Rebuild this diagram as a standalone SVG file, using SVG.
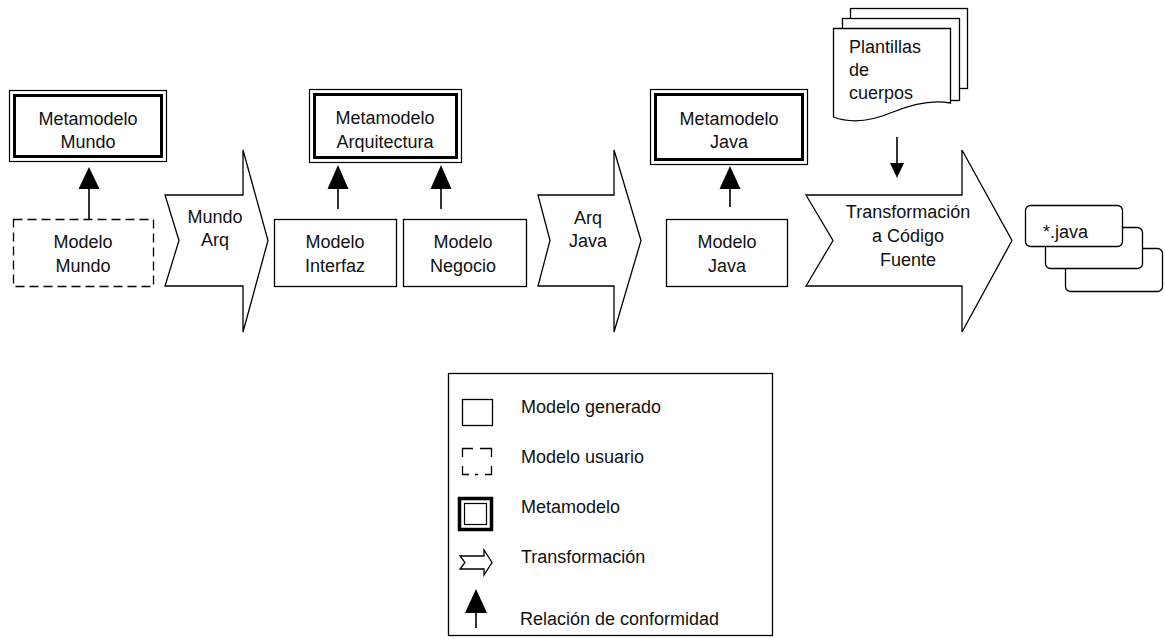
<svg xmlns="http://www.w3.org/2000/svg" width="1165" height="639" viewBox="0 0 1165 639">
  <style>
    .lbl { font-family: "Liberation Sans", Arial, sans-serif; font-size: 18px; fill: #111; }
    .mid { text-anchor: middle; }
    .box { fill: #fff; stroke: #000; stroke-width: 1.3; }
    .dash { fill: #fff; stroke: #000; stroke-width: 1.3; stroke-dasharray: 9 5; }
    .meta-out { fill: #fff; stroke: #000; stroke-width: 1.2; }
    .meta-in { fill: none; stroke: #000; stroke-width: 3; }
    .xform { fill: #fff; stroke: #000; stroke-width: 1.3; stroke-linejoin: miter; }
    .conn { stroke: #000; stroke-width: 1.6; fill: none; }
    .head { fill: #000; stroke: none; }
  </style>
  <rect width="1165" height="639" fill="#fff"/>

  <!-- Metamodels (double border) -->
  <g id="metamodelo-mundo">
    <rect class="meta-out" x="9.5" y="90.5" width="157" height="71"/>
    <rect class="meta-in" x="14.5" y="95.5" width="147" height="61"/>
    <text class="lbl mid" x="88" y="125">Metamodelo</text>
    <text class="lbl mid" x="88" y="148">Mundo</text>
  </g>
  <g id="metamodelo-arquitectura">
    <rect class="meta-out" x="309.5" y="89.5" width="152" height="73"/>
    <rect class="meta-in" x="314.5" y="94.5" width="142" height="63"/>
    <text class="lbl mid" x="385" y="124">Metamodelo</text>
    <text class="lbl mid" x="385" y="148">Arquitectura</text>
  </g>
  <g id="metamodelo-java">
    <rect class="meta-out" x="650.5" y="89.5" width="157" height="75"/>
    <rect class="meta-in" x="655.5" y="94.5" width="147" height="65"/>
    <text class="lbl mid" x="729" y="125">Metamodelo</text>
    <text class="lbl mid" x="729" y="148">Java</text>
  </g>

  <!-- Models -->
  <g id="modelo-mundo">
    <rect class="dash" x="13.5" y="219.5" width="140" height="67"/>
    <text class="lbl mid" x="83" y="248">Modelo</text>
    <text class="lbl mid" x="83" y="272">Mundo</text>
  </g>
  <g id="modelo-interfaz">
    <rect class="box" x="274.5" y="219.5" width="122" height="67"/>
    <text class="lbl mid" x="335" y="248">Modelo</text>
    <text class="lbl mid" x="335" y="272">Interfaz</text>
  </g>
  <g id="modelo-negocio">
    <rect class="box" x="403.5" y="219.5" width="123" height="67"/>
    <text class="lbl mid" x="463" y="248">Modelo</text>
    <text class="lbl mid" x="463" y="272">Negocio</text>
  </g>
  <g id="modelo-java">
    <rect class="box" x="666.5" y="219.5" width="121" height="67"/>
    <text class="lbl mid" x="727" y="248">Modelo</text>
    <text class="lbl mid" x="727" y="272">Java</text>
  </g>

  <!-- Transformations -->
  <g id="t-mundo-arq">
    <polygon class="xform" points="165,195 243,195 243,150 268,240.5 243,332 243,286 165,286 179,240.5"/>
    <text class="lbl mid" x="215" y="223">Mundo</text>
    <text class="lbl mid" x="215" y="246">Arq</text>
  </g>
  <g id="t-arq-java">
    <polygon class="xform" points="538,195 614,195 614,150 641,240.5 614,332 614,286 538,286 550,240.5"/>
    <text class="lbl mid" x="588" y="224">Arq</text>
    <text class="lbl mid" x="588" y="247">Java</text>
  </g>
  <g id="t-codigo">
    <polygon class="xform" points="806,195 962,195 962,150 1012,240.5 962,332 962,286 806,286 833,240.5"/>
    <text class="lbl mid" x="908" y="218">Transformación</text>
    <text class="lbl mid" x="908" y="242">a Código</text>
    <text class="lbl mid" x="908" y="266">Fuente</text>
  </g>

  <!-- Body templates (stacked documents) -->
  <g id="plantillas">
    <rect class="box" x="850.5" y="8.5" width="117" height="80"/>
    <rect class="box" x="842.5" y="18.5" width="117" height="82"/>
    <path class="box" d="M833.5,28.5 H950.5 V103 C 930,99 910,105 893,112 C 872,121 852,124 833.5,117 Z"/>
    <text class="lbl" x="849" y="53">Plantillas</text>
    <text class="lbl" x="849" y="76">de</text>
    <text class="lbl" x="849" y="99">cuerpos</text>
  </g>

  <!-- Generated source files -->
  <g id="archivos-java">
    <rect class="box" x="1065.5" y="248.5" width="97" height="43" rx="5"/>
    <rect class="box" x="1045.5" y="227.5" width="97" height="41" rx="5"/>
    <rect class="box" x="1025.5" y="205.5" width="97" height="41" rx="5"/>
    <text class="lbl" x="1043" y="238">*.java</text>
  </g>

  <!-- Conformance relations and template input -->
  <g id="connectors">
    <line class="conn" x1="89" y1="219" x2="89" y2="186"/>
    <polygon class="head" points="89,167 78.5,189 99.5,189"/>
    <line class="conn" x1="338" y1="209" x2="338" y2="187"/>
    <polygon class="head" points="338,165 327.5,189 348.5,189"/>
    <line class="conn" x1="441" y1="209" x2="441" y2="187"/>
    <polygon class="head" points="441,165 430.5,189 451.5,189"/>
    <line class="conn" x1="730" y1="207" x2="730" y2="187"/>
    <polygon class="head" points="730,166 719.5,189 740.5,189"/>
    <line class="conn" x1="897" y1="137" x2="897" y2="165"/>
    <polygon class="head" points="890,163 904,163 897,178"/>
  </g>

  <!-- Legend -->
  <g id="leyenda">
    <rect class="box" x="448.5" y="373.5" width="324" height="262"/>
    <rect class="box" x="462.5" y="399.5" width="30" height="26"/>
    <text class="lbl" x="521" y="413">Modelo generado</text>
    <!-- user model sample: dashed outline broken at mid-sides -->
    <path fill="none" stroke="#000" stroke-width="1.3"
          d="M462.5,457 V448.5 H473 M480,448.5 H491.5 V457 M491.5,466 V474.5 H485 M478,474.5 H475 M469,474.5 H462.5 V466"/>
    <text class="lbl" x="521" y="463">Modelo usuario</text>
    <rect fill="#fff" stroke="#000" stroke-width="3.5" x="459.5" y="498.5" width="32" height="31"/>
    <rect fill="none" stroke="#000" stroke-width="1.2" x="464.5" y="503.5" width="22" height="21"/>
    <text class="lbl" x="521" y="513">Metamodelo</text>
    <polygon class="xform" points="460,556 484,556 484,550 492,562.5 484,575 484,569 460,569 465,562.5"/>
    <text class="lbl" x="521" y="563">Transformación</text>
    <line class="conn" x1="476" y1="628" x2="476" y2="610"/>
    <polygon class="head" points="476,589 465,613 487,613"/>
    <text class="lbl" x="520" y="625">Relación de conformidad</text>
  </g>
</svg>
